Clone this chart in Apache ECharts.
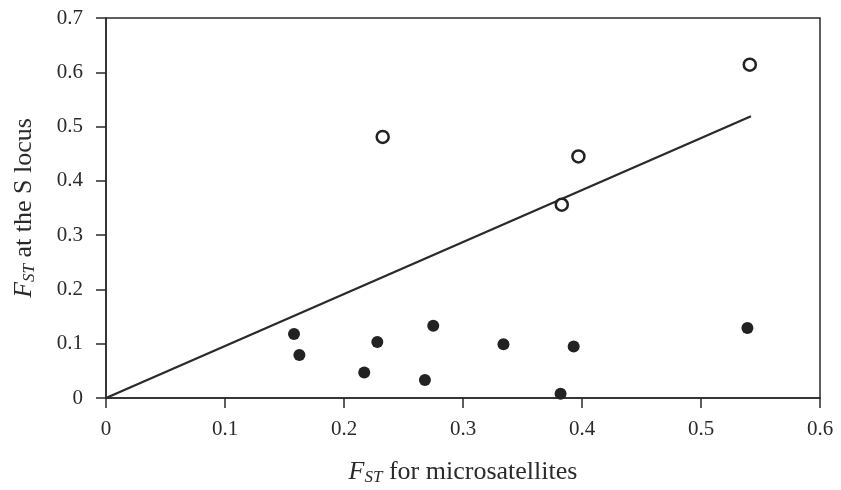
<!DOCTYPE html>
<html>
<head>
<meta charset="utf-8">
<script src="https://cdn.jsdelivr.net/npm/echarts@6/dist/echarts.min.js"></script>
<style>
  html, body { margin: 0; padding: 0; background: #fff; }
  #chart { width: 841px; height: 490px; }
</style>
</head>
<body>
<div id="chart"></div>
<script>
// populations below the line (filled dots)
var filledX = [0.158, 0.1625, 0.217, 0.228, 0.268, 0.275, 0.334, 0.382, 0.393, 0.539];
var filledY = [0.118, 0.079, 0.047, 0.103, 0.033, 0.133, 0.099, 0.008, 0.095, 0.129];
// open circles
var openX = [0.2325, 0.383, 0.397, 0.541];
var openY = [0.481, 0.356, 0.445, 0.614];
// fitted line
var lineX = [0, 0.542];
var lineY = [0, 0.519];

var xTicks = [0, 0.1, 0.2, 0.3, 0.4, 0.5, 0.6];
var yTicks = [0, 0.1, 0.2, 0.3, 0.4, 0.5, 0.6, 0.7];

function pairs(xs, ys) {
  return xs.map(function (x, i) { return [x, ys[i]]; });
}

var serif = '"Liberation Serif", "DejaVu Serif", serif';
var ink = '#2a2a2a';

// F_ST style axis title, subscript in italics
var nameRich = {
  i: { fontFamily: serif, fontSize: 26, fontStyle: 'italic', color: ink },
  sub: { fontFamily: serif, fontSize: 17, fontStyle: 'italic', color: ink, verticalAlign: 'bottom', padding: [11, 0, 0, 0] },
  n: { fontFamily: serif, fontSize: 26, color: ink }
};

var chart = echarts.init(document.getElementById('chart'));
chart.setOption({
  animation: false,
  backgroundColor: '#fff',
  grid: {
    left: 106, right: 21, top: 18, bottom: 92,
    outerBoundsMode: 'none',
    containLabel: false,
    show: true,
    borderColor: ink,
    borderWidth: 1.5
  },
  xAxis: {
    type: 'value',
    min: xTicks[0],
    max: xTicks[xTicks.length - 1],
    interval: 0.1,
    name: '{i|F}{sub|ST}{n| for microsatellites}',
    nameLocation: 'middle',
    nameGap: 60,
    nameTextStyle: { rich: nameRich },
    axisLine: { show: true, lineStyle: { color: ink, width: 1.5 } },
    axisTick: { show: true, inside: false, length: 10, lineStyle: { color: ink, width: 1.5 } },
    axisLabel: { fontFamily: serif, fontSize: 21, color: ink, margin: 21 },
    splitLine: { show: false }
  },
  yAxis: {
    type: 'value',
    min: yTicks[0],
    max: yTicks[yTicks.length - 1],
    interval: 0.1,
    name: '{i|F}{sub|ST}{n| at the S locus}',
    nameLocation: 'middle',
    nameGap: 68,
    nameRotate: 90,
    nameTextStyle: { rich: nameRich },
    axisLine: { show: true, lineStyle: { color: ink, width: 1.5 } },
    axisTick: { show: true, inside: false, length: 10, lineStyle: { color: ink, width: 1.5 } },
    axisLabel: { fontFamily: serif, fontSize: 21, color: ink, margin: 23 },
    splitLine: { show: false }
  },
  series: [
    {
      type: 'line',
      data: pairs(lineX, lineY),
      symbol: 'none',
      lineStyle: { color: ink, width: 2.3 },
      z: 2
    },
    {
      type: 'scatter',
      data: pairs(filledX, filledY),
      symbol: 'circle',
      symbolSize: 12,
      itemStyle: { color: '#222', opacity: 1 },
      z: 3
    },
    {
      type: 'scatter',
      data: pairs(openX, openY),
      symbol: 'circle',
      symbolSize: 12,
      itemStyle: { color: '#fff', borderColor: '#222', borderWidth: 2.5, opacity: 1 },
      z: 4
    }
  ]
});
</script>
</body>
</html>
